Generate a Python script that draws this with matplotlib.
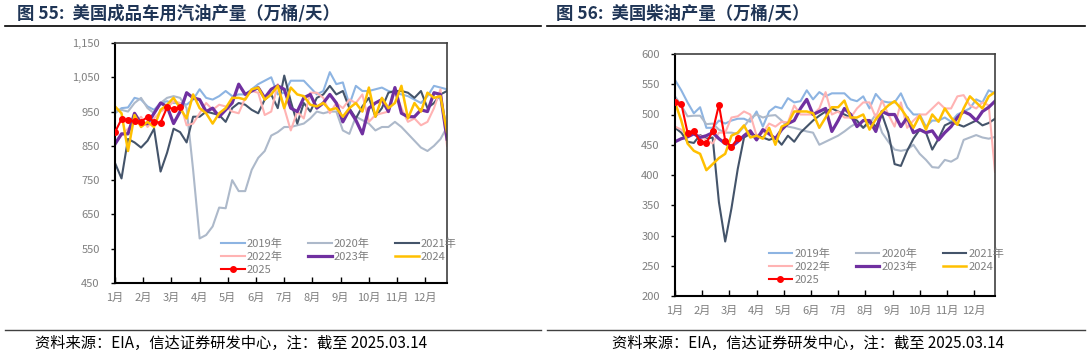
import numpy as np
import matplotlib
matplotlib.use('Agg')
import matplotlib.pyplot as plt
from matplotlib.ticker import FuncFormatter

plt.rcParams['font.family'] = ['Noto Sans CJK SC', 'DejaVu Sans']

# 横轴月份与图例
months = ['1月', '2月', '3月', '4月', '5月', '6月', '7月', '8月', '9月', '10月', '11月', '12月']
labels = ['2019年', '2020年', '2021年', '2022年', '2023年', '2024', '2025']

# 图55 美国成品车用汽油产量（万桶/天），周度
gas_2019 = [945, 960, 962, 990, 985, 965, 955, 975, 980, 975, 975, 970, 985, 1015, 990, 985, 995, 1010,
            995, 1000, 1000, 1015, 1030, 1040, 1050, 1000, 1005, 1040, 1040, 1040, 1020, 1000, 1010, 1065,
            1030, 1035, 970, 1025, 1010, 1010, 1015, 1020, 1010, 1005, 1000, 995, 985, 975, 995, 1025, 1020, 1015]
gas_2020 = [950, 955, 950, 975, 990, 960, 945, 975, 990, 995, 990, 960, 780, 580, 590, 615, 670, 668,
            750, 718, 718, 780, 815, 835, 880, 890, 905, 905, 910, 915, 930, 950, 945, 950,
            950, 895, 885, 935, 925, 915, 895, 905, 905, 920, 905, 885, 865, 845, 835, 850, 870, 905]
gas_2021 = [800, 755, 870, 860, 845, 865, 900, 775, 830, 900, 890, 860, 935, 935, 950, 945, 940, 920,
            960, 975, 970, 955, 945, 985, 1000, 960, 1055, 980, 915, 975, 950, 990, 1000, 1025,
            1000, 1010, 960, 930, 965, 990, 935, 960, 1005, 1010, 1010, 1005, 990, 1010, 960, 975, 1000, 1010]
gas_2022 = [860, 880, 900, 915, 935, 905, 930, 950, 960, 980, 975, 910, 915, 945, 975, 955, 970, 965,
            950, 945, 990, 1010, 1005, 940, 950, 1030, 960, 895, 950, 930, 1005, 1005, 990, 945,
            975, 960, 985, 975, 1000, 920, 940, 945, 950, 1010, 960, 920, 930, 910, 920, 960, 1015, 850]
gas_2023 = [855, 885, 885, 945, 915, 915, 945, 975, 965, 915, 950, 1005, 990, 985, 950, 960, 935, 955,
            975, 1030, 1000, 1010, 1020, 990, 1015, 1025, 1015, 960, 950, 990, 1000, 960, 975, 1000,
            975, 920, 955, 925, 885, 960, 975, 985, 950, 1020, 945, 935, 935, 955, 950, 1005, 1000, 870]
gas_2024 = [965, 945, 835, 940, 905, 920, 905, 955, 970, 990, 960, 930, 1000, 960, 945, 915, 945, 960,
            990, 990, 985, 1015, 1020, 985, 1000, 1025, 960, 1020, 1000, 995, 970, 965, 975, 955,
            960, 935, 960, 975, 950, 1020, 935, 990, 960, 975, 1025, 930, 975, 950, 1005, 990, 995, 890]
gas_2025 = [890, 928, 925, 922, 920, 935, 920, 918, 962, 958, 963]

# 图56 美国柴油产量（万桶/天），周度
dsl_2019 = [557, 540, 520, 502, 512, 478, 478, 490, 485, 490, 493, 493, 488, 505, 480, 505, 513, 510,
            527, 520, 522, 540, 525, 537, 530, 535, 535, 535, 525, 522, 530, 510, 534, 522,
            520, 520, 535, 512, 500, 500, 480, 490, 490, 495, 488, 500, 505, 510, 525, 520, 540, 535]
dsl_2020 = [530, 515, 497, 498, 498, 484, 485, 475, 470, 470, 468, 480, 494, 500, 495, 498, 499, 490,
            480, 478, 475, 472, 470, 450, 455, 460, 465, 472, 480, 486, 478, 485, 500, 470,
            455, 442, 440, 442, 450, 435, 425, 413, 412, 425, 422, 428, 458, 462, 466, 462, 460, 463]
dsl_2021 = [478, 470, 455, 453, 466, 460, 462, 355, 290, 345, 410, 462, 468, 465, 462, 458, 462, 450,
            465, 455, 470, 480, 490, 498, 505, 510, 505, 500, 495, 490, 478, 490, 480, 500,
            470, 418, 415, 440, 460, 475, 470, 442, 460, 482, 487, 484, 480, 485, 490, 482, 486, 493]
dsl_2022 = [480, 475, 466, 468, 465, 458, 452, 470, 470, 495, 497, 505, 500, 465, 470, 485, 480, 488,
            487, 515, 500, 500, 500, 510, 537, 500, 505, 495, 495, 510, 520, 520, 495, 523,
            500, 480, 520, 478, 490, 500, 500, 510, 520, 510, 510, 530, 532, 515, 510, 520, 515, 405]
dsl_2023 = [455, 460, 463, 468, 462, 465, 470, 460, 452, 447, 455, 465, 473, 458, 475, 468, 460, 475,
            485, 490, 510, 525, 500, 505, 510, 472, 490, 510, 500, 480, 490, 490, 472, 505,
            500, 500, 480, 495, 470, 475, 470, 473, 458, 470, 480, 495, 505, 500, 490, 505, 512, 522]
dsl_2024 = [520, 490, 452, 440, 435, 408, 418, 428, 435, 465, 470, 482, 462, 465, 460, 478, 450, 480,
            485, 505, 505, 505, 502, 478, 495, 512, 512, 523, 495, 495, 500, 475, 492, 505,
            515, 522, 510, 495, 478, 498, 475, 500, 488, 510, 495, 483, 510, 530, 520, 510, 530, 537]
dsl_2025 = [521, 518, 470, 473, 455, 453, 472, 516, 457, 446, 461]

colors = ['#8db4e2', '#adb9ca', '#44546a', '#ffb3b3', '#7030a0', '#ffc000', '#ff0000']
widths = [1.5, 1.5, 1.5, 1.5, 2.3, 1.8, 1.5]
GRAY = '#7f7f7f'


def draw_panel(ax, series, ylim, yticks, comma):
    lines = []
    for i, vals in enumerate(series):
        x = np.arange(len(vals))
        if i == 6:
            ln, = ax.plot(x, vals, color=colors[i], lw=widths[i], marker='o', ms=4, zorder=10)
        else:
            ln, = ax.plot(x, vals, color=colors[i], lw=widths[i])
        lines.append(ln)
    ax.set_xlim(0, 51)
    ax.set_ylim(*ylim)
    ax.set_yticks(yticks)
    if comma:
        ax.yaxis.set_major_formatter(FuncFormatter(lambda v, p: f'{v:,.0f}'))
    ax.set_xticks([m * 52 / 12 for m in range(12)])
    ax.set_xticklabels(months)
    ax.tick_params(axis='x', direction='in', length=4, width=1, colors='black',
                   labelcolor=GRAY, labelsize=8, pad=7)
    ax.tick_params(axis='y', direction='out', length=3, width=1, colors='black',
                   labelcolor=GRAY, labelsize=8, pad=8)
    for s in ['left', 'bottom']:
        ax.spines[s].set_linewidth(1.5)
        ax.spines[s].set_color('black')
    for s in ['top', 'right']:
        ax.spines[s].set_linewidth(1.2)
        ax.spines[s].set_color('#404040')
    order = [0, 3, 6, 1, 4, 2, 5]
    return [lines[k] for k in order], [labels[k] for k in order]


fig = plt.figure(figsize=(10.88, 3.55), dpi=100)

ax1 = fig.add_axes([115 / 1088, 1 - 283 / 355, 332 / 1088, 240 / 355])
h, l = draw_panel(ax1, [gas_2019, gas_2020, gas_2021, gas_2022, gas_2023, gas_2024, gas_2025],
                  (450, 1150), range(450, 1151, 100), True)
ax1.legend(h, l, ncol=3, frameon=False, loc='upper left', bbox_to_anchor=(0.32, 0.185),
           fontsize=8, labelcolor=GRAY, handlelength=2.1, handletextpad=0.2,
           columnspacing=2.3, labelspacing=0.25, borderpad=0, borderaxespad=0)

ax2 = fig.add_axes([675 / 1088, 1 - 296 / 355, 320 / 1088, 242 / 355])
h, l = draw_panel(ax2, [dsl_2019, dsl_2020, dsl_2021, dsl_2022, dsl_2023, dsl_2024, dsl_2025],
                  (200, 600), range(200, 601, 50), False)
ax2.legend(h, l, ncol=3, frameon=False, loc='upper left', bbox_to_anchor=(0.293, 0.195),
           fontsize=8, labelcolor=GRAY, handlelength=2.1, handletextpad=0.2,
           columnspacing=2.3, labelspacing=0.25, borderpad=0, borderaxespad=0)

# 标题、分隔线与来源
title_color = '#1f3556'
fig.text(17 / 1088, 1 - 14 / 355, '图 55:  美国成品车用汽油产量（万桶/天）', fontsize=12.5,
         fontweight='bold', color=title_color, va='center')
fig.text(556 / 1088, 1 - 14 / 355, '图 56:  美国柴油产量（万桶/天）', fontsize=12.5,
         fontweight='bold', color=title_color, va='center')
for x0, x1 in [(5, 541), (547, 1085)]:
    fig.add_artist(plt.Line2D([x0 / 1088, x1 / 1088], [1 - 26 / 355] * 2, color='black', lw=1.2))
    fig.add_artist(plt.Line2D([x0 / 1088, x1 / 1088], [1 - 330 / 355] * 2, color='#404040', lw=1.0))
src = '资料来源：EIA，信达证券研发中心，注：截至 2025.03.14'
fig.text(35 / 1088, 1 - 343 / 355, src, fontsize=11, color='black', va='center')
fig.text(612 / 1088, 1 - 343 / 355, src, fontsize=11, color='black', va='center')

fig.savefig('out.png', dpi=100)
